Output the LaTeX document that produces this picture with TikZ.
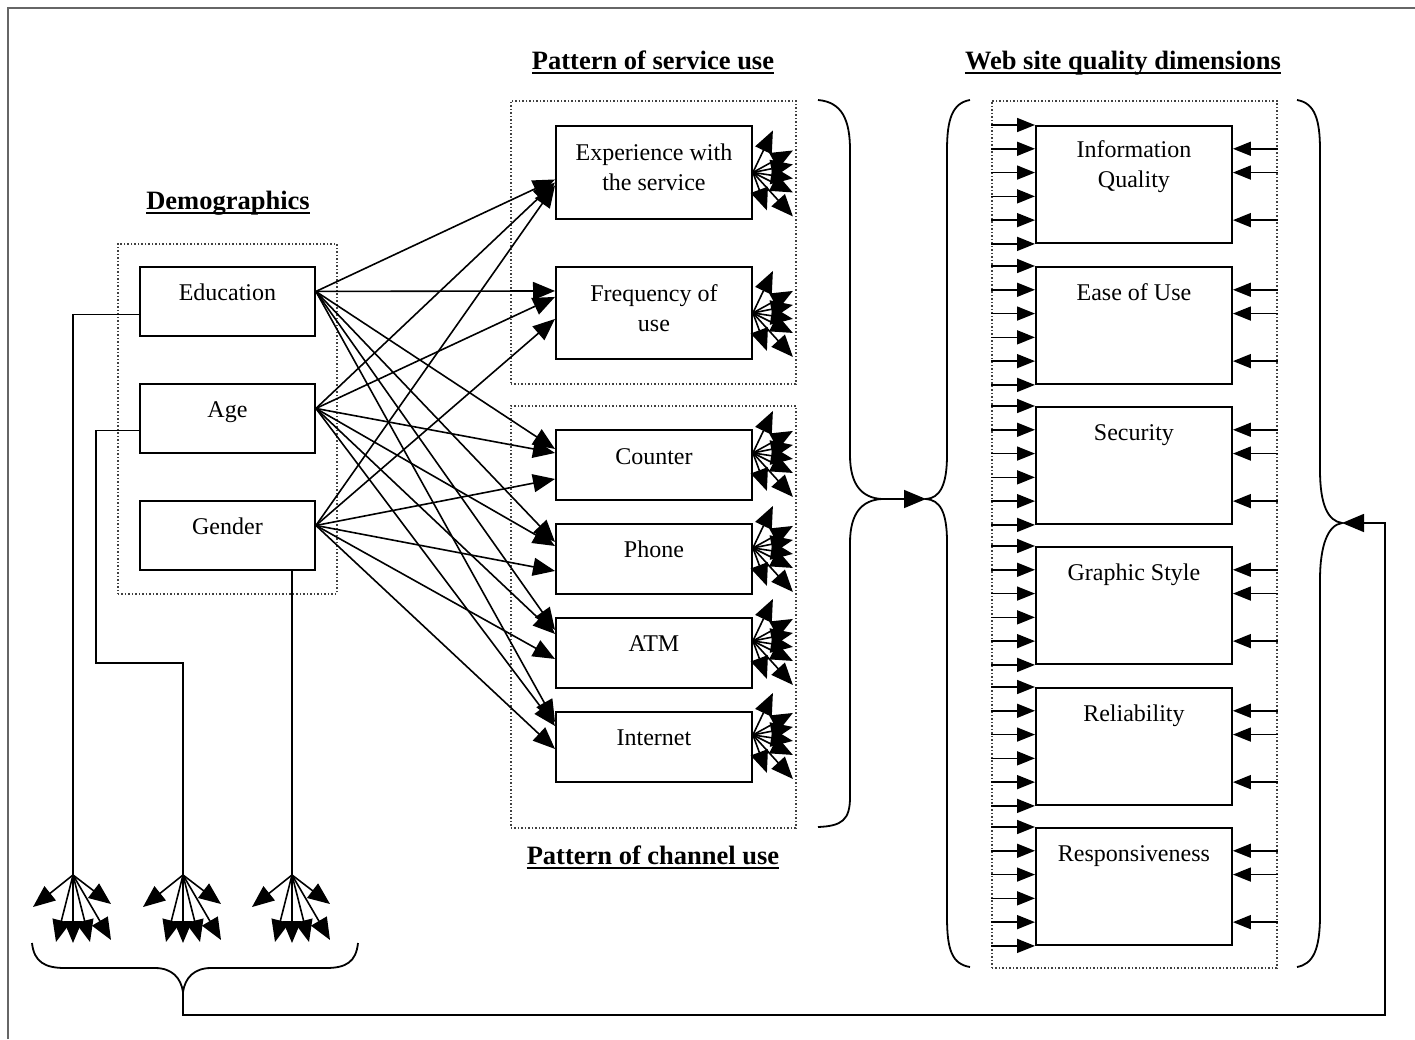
\documentclass[tikz,border=0pt]{standalone}
\usepackage{fontspec}
\setmainfont{Liberation Serif}
\usetikzlibrary{arrows.meta,calc}
\begin{document}
\begin{tikzpicture}[x=1pt,y=-1pt,
 every node/.style={font=\fontsize{24}{30}\selectfont},
 box/.style={draw, line width=1.9pt, anchor=north west, minimum width=196pt, inner sep=0},
 grp/.style={draw=black!75, dotted, line width=1.5pt, anchor=north west, inner sep=0},
 lbl/.style={anchor=base, inner sep=0, align=center},
 lbltwo/.style={anchor=center, inner sep=0, align=center},
 head/.style={anchor=base, inner sep=0, font=\fontsize{26.5}{30}\selectfont\bfseries},
 uline/.style={line width=1.8pt},
 arr/.style={line width=1.6pt, -{Triangle[length=22pt,width=18pt]}},
 warr/.style={line width=1.6pt, -{Triangle[length=18pt,width=14pt]}},
 ln/.style={line width=1.6pt},
 brace/.style={line width=1.8pt},
]
\useasboundingbox (0,0) rectangle (1415,1039);
\draw[draw=black!60, line width=2pt] (8,1039) -- (8,8) -- (1415,8);

% groups
\node[grp, minimum width=219pt, minimum height=350pt] (demgrp) at (117,243) {};
\node[grp, minimum width=285pt, minimum height=283pt] (svcgrp) at (510,100) {};
\node[grp, minimum width=285pt, minimum height=422pt] (chgrp) at (510,405) {};
\node[grp, minimum width=285pt, minimum height=867pt] (webgrp) at (991,100) {};

% headings
\node[head] (hdem) at (228,209) {Demographics};
\node[head] (hsvc) at (653,69) {Pattern of service use};
\node[head] (hweb) at (1123,69) {Web site quality dimensions};
\node[head] (hch) at (653,864) {Pattern of channel use};
\foreach \h in {hdem,hsvc,hweb,hch}
  \draw[uline] ([yshift=-4pt]\h.base west) -- ([yshift=-4pt]\h.base east);

% demographic boxes
\node[box, minimum width=175pt, minimum height=69pt] (edu) at (139,266) {};
\node[box, minimum width=175pt, minimum height=69pt] (age) at (139,383) {};
\node[box, minimum width=175pt, minimum height=69pt] (gen) at (139,500) {};
\node[lbl] (edut) at ([yshift=-34pt]edu.north) {Education};
\node[lbl] (aget) at ([yshift=-34pt]age.north) {Age};
\node[lbl] (gent) at ([yshift=-34pt]gen.north) {Gender};

% service / channel boxes
\node[box, minimum height=93pt] (exp) at (555,125) {};
\node[box, minimum height=92pt] (frq) at (555,266) {};
\node[box, minimum height=70pt] (cnt) at (555,429) {};
\node[box, minimum height=70pt] (phn) at (555,523) {};
\node[box, minimum height=70pt] (atm) at (555,617) {};
\node[box, minimum height=70pt] (int) at (555,711) {};
\node[lbltwo] (expt) at ([yshift=-42pt]exp.north) {Experience with\\the service};
\node[lbltwo] (frqt) at ([yshift=-42pt]frq.north) {Frequency of\\use};
\node[lbl] (cntt) at ([yshift=-35pt]cnt.north) {Counter};
\node[lbl] (phnt) at ([yshift=-34pt]phn.north) {Phone};
\node[lbl] (atmt) at ([yshift=-34pt]atm.north) {ATM};
\node[lbl] (intt) at ([yshift=-34pt]int.north) {Internet};

% web boxes
\node[box, minimum height=117pt] (iq) at (1035,125) {};
\node[box, minimum height=117pt] (eu) at (1035,266) {};
\node[box, minimum height=117pt] (se) at (1035,406) {};
\node[box, minimum height=117pt] (gs) at (1035,546) {};
\node[box, minimum height=117pt] (rl) at (1035,687) {};
\node[box, minimum height=117pt] (rs) at (1035,827) {};
\node[lbltwo] (iqt) at ([yshift=-42pt]iq.north) {Information\\Quality};
\node[lbl] (eut) at ([yshift=-34pt]eu.north) {Ease of Use};
\node[lbl] (set) at ([yshift=-34pt]se.north) {Security};
\node[lbl] (gst) at ([yshift=-34pt]gs.north) {Graphic Style};
\node[lbl] (rlt) at ([yshift=-34pt]rl.north) {Reliability};
\node[lbl] (rst) at ([yshift=-34pt]rs.north) {Responsiveness};

% demographic -> pattern arrows
\foreach \s/\t/\o in {edu/exp/-7, age/exp/-10, gen/exp/-13,
  edu/frq/22, age/frq/16, gen/frq/-6,
  edu/cnt/16, age/cnt/12, gen/cnt/-14,
  edu/phn/17, age/phn/13, gen/phn/-12,
  edu/atm/23, age/atm/19, gen/atm/-6,
  edu/int/25, age/int/21, gen/int/-2}
  \draw[arr] ([yshift=10pt]\s.east) -- ([yshift=\o pt]\t.west);

% fans at right of pattern boxes
\foreach \b/\o in {exp/0, frq/0, cnt/12, phn/11, atm/12, int/12}
  \foreach \dx/\dy in {20/-42, 40/-22, 40/-8, 40/6, 40/20, 14/38, 40/44}
    \draw[arr] ([yshift=\o pt]\b.east) -- ++(\dx,\dy);

% web arrows
\foreach \b in {iq,eu,se,gs,rl,rs}{
  \foreach \k in {0,0.2,0.4,0.6,0.8,1}{
    \coordinate (wp) at ($(\b.north west)!\k!(\b.south west)$);
    \draw[warr] (webgrp.west |- wp) -- (wp);
  }
  \foreach \k in {0.2,0.4,0.8}{
    \coordinate (wq) at ($(\b.north east)!\k!(\b.south east)$);
    \draw[warr] (webgrp.east |- wq) -- (wq);
  }
}

% demographics down to bottom fans
\coordinate (fanA) at (73,875);
\coordinate (fanB) at (183,875);
\coordinate (fanC) at (292,875);
\coordinate (agebend) at (96,663);
\draw[ln] ([yshift=-13pt]edu.west) -| (fanA);
\draw[ln] ([yshift=-12pt]age.west) -| (agebend) -| (fanB);
\draw[ln] (gen.south -| fanC) -- (fanC);
\foreach \f in {fanA,fanB,fanC}
  \foreach \dx/\dy in {-40/32, -17/67, 0/68, 17/67, 38/65, 38/29}
    \draw[arr] (\f) -- ++(\dx,\dy);

% braces
\draw[brace] (818,100) .. controls (842,102) and (850,120) .. (850,150) -- (850,455)
  .. controls (850,485) and (862,498) .. (882,499)
  .. controls (862,500) and (850,513) .. (850,543) -- (850,797)
  .. controls (850,820) and (842,826) .. (818,827);
\draw[brace] (970,100) .. controls (952,103) and (947,120) .. (947,150) -- (947,455)
  .. controls (947,485) and (940,498) .. (926,499)
  .. controls (940,500) and (947,512) .. (947,542) -- (947,917)
  .. controls (947,950) and (952,964) .. (970,967);
\draw[brace] (1297,100) .. controls (1315,103) and (1320,120) .. (1320,150) -- (1320,470)
  .. controls (1320,505) and (1328,521) .. (1342,523)
  .. controls (1328,525) and (1320,545) .. (1320,580) -- (1320,915)
  .. controls (1320,950) and (1313,964) .. (1297,967);
\draw[brace] (32,943) .. controls (34,962) and (45,968) .. (65,968) -- (155,968)
  .. controls (172,968) and (181,978) .. (183,992)
  .. controls (185,978) and (194,968) .. (211,968) -- (326,968)
  .. controls (346,968) and (356,962) .. (358,943);
\coordinate (b1) at (882,499);
\coordinate (b2) at (926,499);
\coordinate (b3) at (1342,523);
\coordinate (b4) at (183,992);
\coordinate (fb) at (1385,1015);
\draw[arr] (b1) -- (b2);
\draw[arr] (b4) |- (fb) |- (b3);
\end{tikzpicture}
\end{document}
